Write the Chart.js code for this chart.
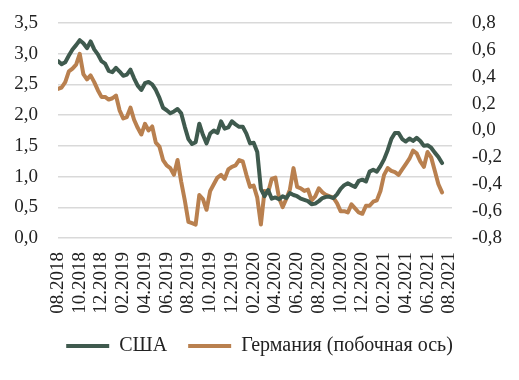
<!DOCTYPE html>
<html>
<head>
<meta charset="utf-8">
<script src="https://cdn.jsdelivr.net/npm/chart.js@4"></script>
<style>
  html, body { margin: 0; padding: 0; background: #fff; }
  #wrap { width: 519px; height: 380px; }
</style>
</head>
<body>
<div id="wrap"><canvas id="grafico"></canvas></div>
<script>
// подписи оси X (каждые 2 месяца)
const tickLabels = ['08.2018', '10.2018', '12.2018', '02.2019', '04.2019', '06.2019', '08.2019',
  '10.2019', '12.2019', '02.2020', '04.2020', '06.2020', '08.2020', '10.2020', '12.2020',
  '02.2021', '04.2021', '06.2021', '08.2021'];

// шаг данных: треть месяца, начиная с 08.2018
const usa = [
  2.88, 2.83, 2.86, 2.97, 3.07, 3.14, 3.22, 3.17, 3.09, 3.20,
  3.07, 2.99, 2.88, 2.84, 2.72, 2.70, 2.77, 2.71, 2.64, 2.66,
  2.74, 2.60, 2.48, 2.41, 2.52, 2.54, 2.50, 2.41, 2.28, 2.12,
  2.08, 2.03, 2.06, 2.10, 2.03, 1.81, 1.61, 1.53, 1.56, 1.86,
  1.68, 1.54, 1.70, 1.75, 1.71, 1.90, 1.78, 1.80, 1.90, 1.85,
  1.81, 1.81, 1.70, 1.54, 1.55, 1.40, 0.80, 0.68, 0.78, 0.64,
  0.66, 0.63, 0.68, 0.65, 0.73, 0.70, 0.68, 0.64, 0.62, 0.60,
  0.55, 0.56, 0.60, 0.65, 0.67, 0.67, 0.65, 0.71, 0.80, 0.86,
  0.89, 0.86, 0.83, 0.93, 0.95, 0.92, 1.08, 1.11, 1.08, 1.17,
  1.28, 1.43, 1.61, 1.71, 1.71, 1.61, 1.57, 1.62, 1.58, 1.63,
  1.58, 1.50, 1.51, 1.47, 1.39, 1.32, 1.22
];

const germany = [
  0.31, 0.32, 0.36, 0.44, 0.46, 0.49, 0.57, 0.42, 0.38, 0.41,
  0.36, 0.30, 0.25, 0.25, 0.23, 0.24, 0.26, 0.15, 0.09, 0.10,
  0.17, 0.08, 0.02, -0.03, 0.05, 0.00, 0.03, -0.09, -0.12, -0.22,
  -0.26, -0.28, -0.33, -0.22, -0.38, -0.52, -0.68, -0.69, -0.70, -0.48,
  -0.51, -0.59, -0.45, -0.40, -0.35, -0.33, -0.36, -0.29, -0.27, -0.26,
  -0.22, -0.23, -0.33, -0.42, -0.41, -0.50, -0.70, -0.45, -0.46, -0.36,
  -0.35, -0.50, -0.57, -0.51, -0.44, -0.28, -0.42, -0.43, -0.45, -0.44,
  -0.52, -0.49, -0.43, -0.46, -0.48, -0.49, -0.50, -0.54, -0.60, -0.60,
  -0.61, -0.55, -0.58, -0.61, -0.62, -0.56, -0.56, -0.53, -0.52, -0.45,
  -0.33, -0.28, -0.30, -0.31, -0.33, -0.29, -0.25, -0.21, -0.15, -0.17,
  -0.23, -0.27, -0.16, -0.20, -0.30, -0.40, -0.46
];

const seriesNames = ['США', 'Германия (побочная ось)'];
const colors = ['#3f5a4e', '#b9804f'];

const toPoints = arr => arr.map((v, i) => ({ x: i / 3, y: v }));
const comma = v => (Math.abs(v) < 1e-9 ? 0 : v).toFixed(1).replace('.', ',');
const fontFam = '"Liberation Serif", "Times New Roman", serif';

// ширина вертикальной оси без лишних отступов сверху/снизу
const fixY = w => s => { s.width = w; s.paddingTop = 0; s.paddingBottom = 0; };

new Chart(document.getElementById('grafico'), {
  type: 'line',
  data: {
    datasets: [
      {
        label: seriesNames[0],
        data: toPoints(usa),
        yAxisID: 'y',
        borderColor: colors[0],
        backgroundColor: colors[0],
        borderWidth: 4,
        pointRadius: 0,
        tension: 0,
        borderJoinStyle: 'round',
        borderCapStyle: 'round'
      },
      {
        label: seriesNames[1],
        data: toPoints(germany),
        yAxisID: 'y2',
        borderColor: colors[1],
        backgroundColor: colors[1],
        borderWidth: 4,
        pointRadius: 0,
        tension: 0,
        borderJoinStyle: 'round',
        borderCapStyle: 'round'
      }
    ]
  },
  options: {
    responsive: true,
    maintainAspectRatio: false,
    animation: false,
    layout: { padding: { top: 23, bottom: 14, left: 0, right: 0 } },
    scales: {
      x: {
        type: 'linear',
        min: 0,
        max: 36.25,
        grid: { display: false, drawTicks: false },
        border: { display: false },
        afterFit: s => { s.height = 77; },
        afterBuildTicks: s => { s.ticks = tickLabels.map((_, i) => ({ value: i * 2 })); },
        ticks: {
          autoSkip: false,
          minRotation: 90,
          maxRotation: 90,
          padding: 14,
          color: '#222',
          font: { family: fontFam, size: 19 },
          callback: v => tickLabels[v / 2]
        }
      },
      y: {
        position: 'left',
        min: 0,
        max: 3.5,
        grid: { color: '#d9d9d9', lineWidth: 1.5, drawTicks: false },
        border: { display: false },
        afterFit: fixY(58),
        ticks: {
          stepSize: 0.5,
          autoSkip: false,
          padding: 20,
          color: '#222',
          font: { family: fontFam, size: 19 },
          callback: v => comma(v)
        }
      },
      y2: {
        position: 'right',
        min: -0.8,
        max: 0.8,
        grid: { display: false, drawTicks: false },
        border: { display: false },
        afterFit: fixY(67),
        ticks: {
          stepSize: 0.2,
          autoSkip: false,
          padding: 20,
          color: '#222',
          font: { family: fontFam, size: 19 },
          callback: v => comma(v)
        }
      }
    },
    plugins: {
      tooltip: { enabled: false },
      legend: {
        position: 'bottom',
        labels: {
          boxWidth: 43,
          boxHeight: 4,
          padding: 21,
          color: '#222',
          font: { family: fontFam, size: 20 },
          generateLabels: chart => Chart.defaults.plugins.legend.labels.generateLabels(chart)
            .map(l => ({ ...l, lineWidth: 0, fillStyle: l.strokeStyle }))
        }
      }
    }
  }
});
</script>
</body>
</html>
